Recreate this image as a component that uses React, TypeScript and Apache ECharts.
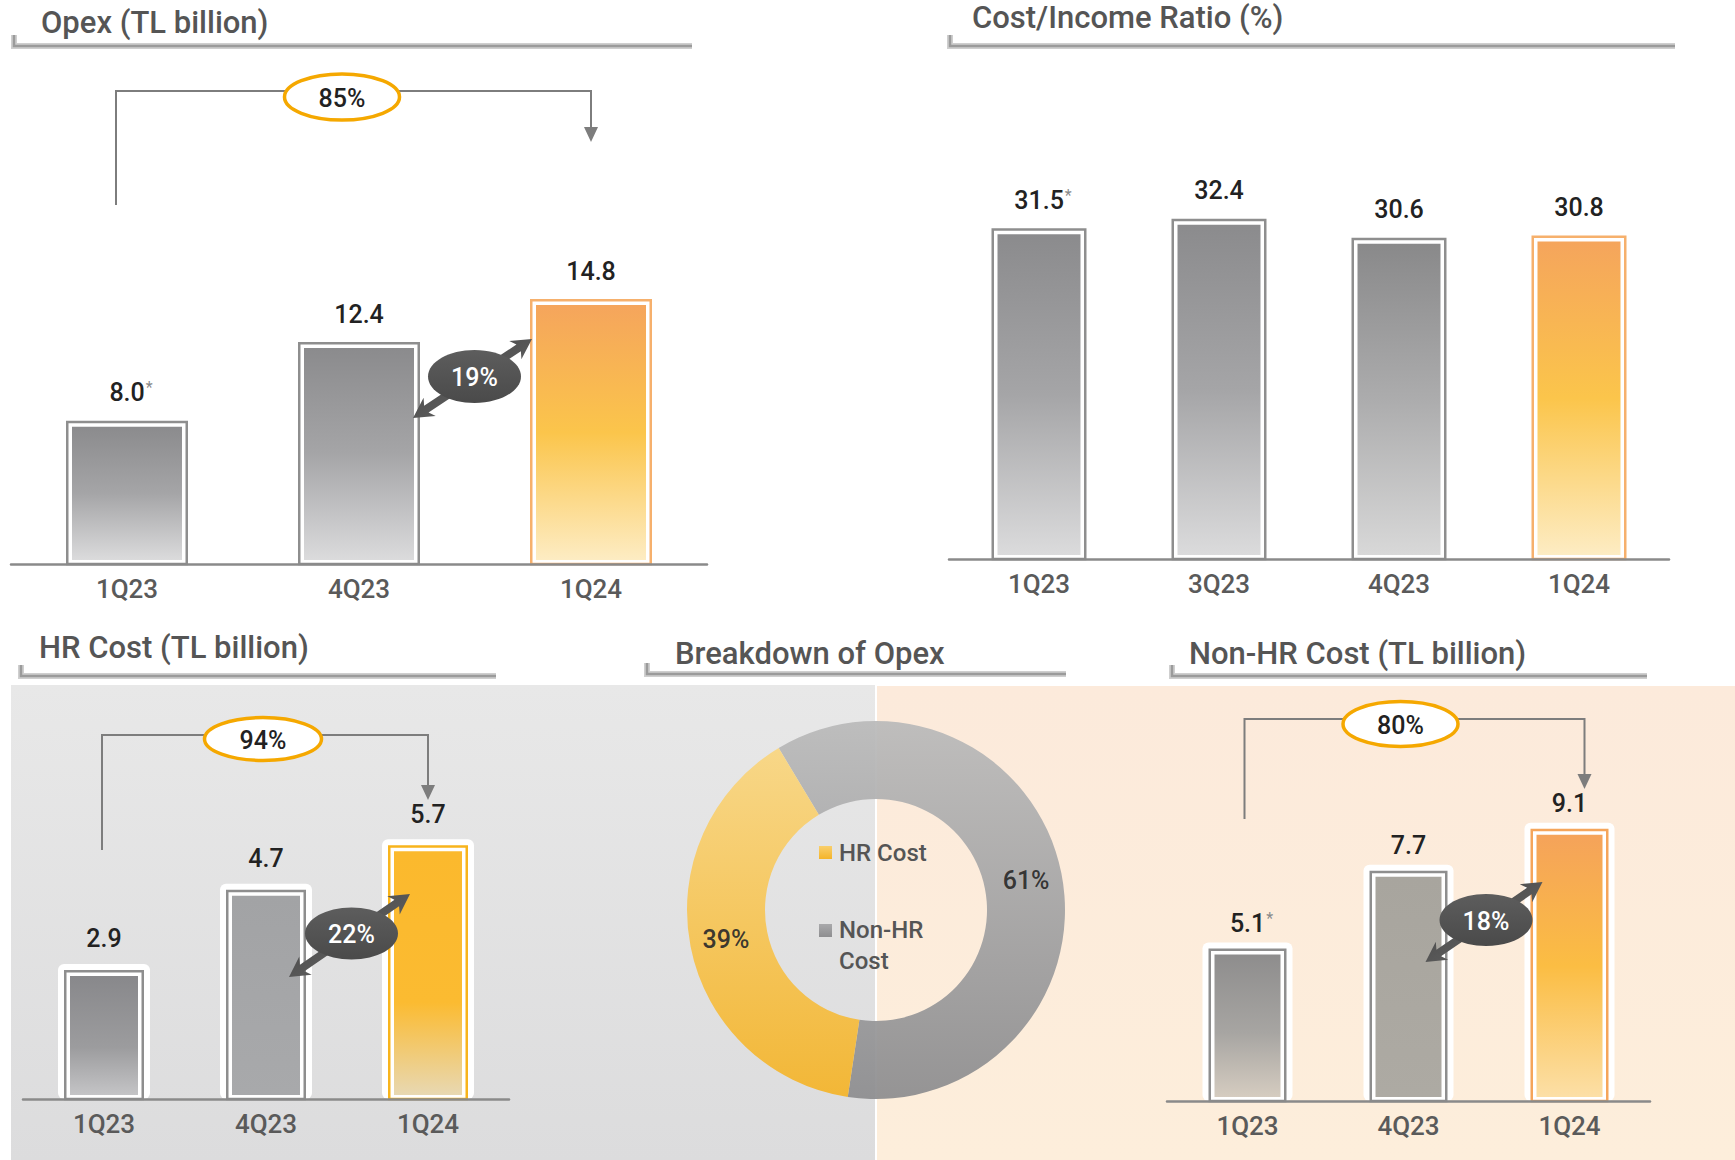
import React, { useEffect, useRef } from 'react';
import * as echarts from 'echarts';

const FONT = "Roboto, 'Open Sans', sans-serif";

// Opex (TL billion)
const opexQuarters = ['1Q23', '4Q23', '1Q24'];
const opexValues = [8.0, 12.4, 14.8];
const opexStarred = [true, false, false];
const opexYoY = '85%';
const opexQoQ = '19%';

// Cost/Income ratio (%)
const ratioQuarters = ['1Q23', '3Q23', '4Q23', '1Q24'];
const ratioValues = [31.5, 32.4, 30.6, 30.8];
const ratioStarred = [true, false, false, false];

// HR cost (TL billion)
const hrQuarters = ['1Q23', '4Q23', '1Q24'];
const hrValues = [2.9, 4.7, 5.7];
const hrStarred = [false, false, false];
const hrYoY = '94%';
const hrQoQ = '22%';

// Non-HR cost (TL billion)
const nonHrQuarters = ['1Q23', '4Q23', '1Q24'];
const nonHrValues = [5.1, 7.7, 9.1];
const nonHrStarred = [true, false, false];
const nonHrYoY = '80%';
const nonHrQoQ = '18%';

// Breakdown of opex (%)
const breakdownNames = ['Non-HR Cost', 'HR Cost'];
const breakdownShares = [61, 39];

const grad = (stops: Array<[number, string]>) =>
  new echarts.graphic.LinearGradient(
    0, 0, 0, 1,
    stops.map(([offset, color]) => ({ offset, color }))
  );

const FRAME_GREY = '#8e8e8e';
const greyUpper = () => grad([[0, '#8b8b8d'], [0.5, '#a5a5a7'], [1, '#dbdbdc']]);
const amberUpper = () => grad([[0, '#f5a55c'], [0.5, '#fbc54b'], [1, '#fdecc3']]);

type BarStyle = { fill: any; frame: string };

const opexStyles: BarStyle[] = [
  { fill: greyUpper(), frame: FRAME_GREY },
  { fill: greyUpper(), frame: FRAME_GREY },
  { fill: amberUpper(), frame: '#f6b06c' },
];
const ratioStyles: BarStyle[] = [
  { fill: greyUpper(), frame: FRAME_GREY },
  { fill: greyUpper(), frame: FRAME_GREY },
  { fill: grad([[0, '#89898a'], [0.5, '#acacad'], [1, '#d8d8d8']]), frame: FRAME_GREY },
  { fill: amberUpper(), frame: '#f6b06c' },
];
const hrStyles: BarStyle[] = [
  { fill: grad([[0, '#88888b'], [0.6, '#9c9c9e'], [1, '#c4c4c6']]), frame: FRAME_GREY },
  { fill: grad([[0, '#a2a3a5'], [1, '#a8a9ab']]), frame: FRAME_GREY },
  { fill: grad([[0, '#fbb92d'], [0.62, '#fbbb31'], [1, '#e8d8b2']]), frame: '#f8b41c' },
];
const nonHrStyles: BarStyle[] = [
  { fill: grad([[0, '#8e8d8d'], [0.55, '#a7a5a2'], [1, '#d5ccc0']]), frame: FRAME_GREY },
  { fill: grad([[0, '#a8a59e'], [1, '#adaaa3']]), frame: FRAME_GREY },
  { fill: grad([[0, '#f5a35a'], [0.5, '#fbbd43'], [1, '#fcdfa6']]), frame: '#f5a55a' },
];

const labelRich = {
  v: { fontSize: 25, fontWeight: 500, fontFamily: FONT, fill: '#222222', color: '#222222' },
  s: { fontSize: 16, fontFamily: FONT, fill: '#8a8a8a', color: '#8a8a8a', verticalAlign: 'top', padding: [0, 0, 10, 1] },
};

// Framed bar: optional white halo, thin frame, white gap and gradient fill, value on top
function framedBars(
  gridIndex: number,
  values: number[],
  starred: boolean[],
  styles: BarStyle[],
  barWidth: number,
  halo: boolean,
  labelGap: number
) {
  return {
    type: 'custom',
    xAxisIndex: gridIndex,
    yAxisIndex: gridIndex,
    z: 2,
    silent: true,
    data: values.map((v, i) => [i, v]),
    renderItem: (_params: any, api: any) => {
      const i = api.value(0);
      const v = api.value(1);
      const top = api.coord([i, v]);
      const base = api.coord([i, 0]);
      const st = styles[i];
      const x = top[0] - barWidth / 2;
      const y = top[1];
      const h = base[1] - top[1];
      const children: any[] = [];
      if (halo) {
        children.push({
          type: 'rect',
          shape: { x: x - 6, y: y - 6, width: barWidth + 12, height: h + 6, r: 6 },
          style: { fill: '#ffffff' },
        });
      }
      children.push({
        type: 'rect',
        shape: { x: x + 1.25, y: y + 1.25, width: barWidth - 2.5, height: h - 1.25 },
        style: { fill: '#ffffff', stroke: st.frame, lineWidth: 2.5 },
      });
      children.push({
        type: 'rect',
        shape: { x: x + 6, y: y + 6, width: barWidth - 12, height: h - 10 },
        style: { fill: st.fill },
      });
      const txt = starred[i] ? `{v|${v.toFixed(1)}}{s|*}` : `{v|${v.toFixed(1)}}`;
      children.push({
        type: 'text',
        x: top[0] + (starred[i] ? 4 : 0),
        y: y - labelGap,
        style: {
          text: txt,
          rich: labelRich,
          align: 'center',
          verticalAlign: 'middle',
          textAlign: 'center',
          textVerticalAlign: 'middle',
        },
      });
      return { type: 'group', children };
    },
  };
}

const axisLabel = {
  fontSize: 26,
  fontWeight: 500,
  color: '#5a5a5a',
  fontFamily: FONT,
  margin: 12,
};

function xAxis(gridIndex: number, data: string[]) {
  return {
    type: 'category',
    gridIndex,
    data,
    z: 5,
    axisTick: { show: false },
    axisLine: { lineStyle: { color: '#8a8a8a', width: 2.5 } },
    axisLabel,
  };
}
function yAxis(gridIndex: number, max: number) {
  return { type: 'value', gridIndex, min: 0, max, show: false, splitLine: { show: false } };
}

const titleStyle = { fontSize: 31, fontWeight: 500, color: '#555555', fontFamily: FONT, lineHeight: 36 };

// Header rule: light outer line with a darker core, short upward tick at the left end
function headerRule(x0: number, x1: number, y: number) {
  const pts = [[x0, y - 11], [x0, y], [x1, y]];
  return [
    { type: 'polyline', z: 1, silent: true, shape: { points: pts }, style: { stroke: '#cfcfcf', lineWidth: 6, fill: null } },
    { type: 'polyline', z: 1, silent: true, shape: { points: pts }, style: { stroke: '#9b9b9b', lineWidth: 2.5, fill: null } },
  ];
}

function growthBracket(xl: number, xr: number, yTop: number, yLeftEnd: number, yTip: number,
  ex: number, ey: number, ew: number, eh: number, label: string) {
  const c = '#7d7d7d';
  return [
    { type: 'polyline', z: 10, silent: true, shape: { points: [[xl, yLeftEnd], [xl, yTop], [xr, yTop], [xr, yTip - 12]] }, style: { stroke: c, lineWidth: 2, fill: null } },
    { type: 'polygon', z: 10, silent: true, shape: { points: [[xr - 7, yTip - 15], [xr + 7, yTip - 15], [xr, yTip]] }, style: { fill: c } },
    { type: 'ellipse', z: 11, silent: true, shape: { cx: ex, cy: ey, rx: ew / 2, ry: eh / 2 }, style: { fill: '#ffffff', stroke: '#f5a800', lineWidth: 3.5 } },
    { type: 'text', z: 12, silent: true, x: ex, y: ey + 1, style: { text: label, fill: '#222222', fontSize: 25, fontWeight: 500, fontFamily: FONT, align: 'center', verticalAlign: 'middle', textAlign: 'center', textVerticalAlign: 'middle' } },
  ];
}

function changeArrow(p1: number[], p2: number[], ew: number, eh: number, label: string) {
  const dx = p2[0] - p1[0];
  const dy = p2[1] - p1[1];
  const len = Math.hypot(dx, dy);
  const u = [dx / len, dy / len];
  const n = [-u[1], u[0]];
  const L = 20, hw = 11, s = 4;
  const at = (p: number[], a: number, b: number) => [p[0] + u[0] * a + n[0] * b, p[1] + u[1] * a + n[1] * b];
  const pts = [
    p1, at(p1, L, hw), at(p1, L - 4, s), at(p2, -L + 4, s), at(p2, -L, hw), p2,
    at(p2, -L, -hw), at(p2, -L + 4, -s), at(p1, L - 4, -s), at(p1, L, -hw),
  ];
  const cx = (p1[0] + p2[0]) / 2 + 2;
  const cy = (p1[1] + p2[1]) / 2 - 2;
  return [
    { type: 'polygon', z: 10, silent: true, shape: { points: pts }, style: { fill: new echarts.graphic.LinearGradient(0, 0, 1, 1, [{ offset: 0, color: '#3e3e3e' }, { offset: 1, color: '#6e6e6e' }]) } },
    { type: 'ellipse', z: 11, silent: true, shape: { cx, cy, rx: ew / 2, ry: eh / 2 }, style: { fill: new echarts.graphic.LinearGradient(0, 0, 0, 1, [{ offset: 0, color: '#5d5d5d' }, { offset: 1, color: '#4a4a4a' }]) } },
    { type: 'text', z: 12, silent: true, x: cx, y: cy + 1, style: { text: label, fill: '#ffffff', fontSize: 25, fontWeight: 500, fontFamily: FONT, align: 'center', verticalAlign: 'middle', textAlign: 'center', textVerticalAlign: 'middle' } },
  ];
}

export default function App() {
  const ref = useRef<HTMLDivElement>(null);

  useEffect(() => {
    if (!ref.current) return;
    const chart = echarts.init(ref.current, undefined, { renderer: 'svg' });

    const hrFill = grad([[0, '#f9d681'], [1, '#f4b42a']]);
    const nonHrFill = grad([[0, '#bababa'], [1, '#8d8d8f']]);

    chart.setOption({
      animation: false,
      textStyle: { fontFamily: FONT },
      title: [
        { text: 'Opex (TL billion)', left: 41, top: 4, padding: 0, textStyle: titleStyle },
        { text: 'Cost/Income Ratio (%)', left: 972, top: -1, padding: 0, textStyle: titleStyle },
        { text: 'HR Cost (TL billion)', left: 39, top: 629, padding: 0, textStyle: titleStyle },
        { text: 'Breakdown of Opex', left: 675, top: 635, padding: 0, textStyle: titleStyle },
        { text: 'Non-HR Cost (TL billion)', left: 1189, top: 635, padding: 0, textStyle: titleStyle },
      ],
      grid: [
        { left: 11, top: 206, width: 696, height: 358 },
        { left: 949, top: 139, width: 720, height: 420 },
        { left: 23, top: 743, width: 486, height: 356 },
        { left: 1167, top: 742, width: 483, height: 359 },
      ],
      xAxis: [
        xAxis(0, opexQuarters),
        xAxis(1, ratioQuarters),
        xAxis(2, hrQuarters),
        xAxis(3, nonHrQuarters),
      ],
      yAxis: [yAxis(0, 20), yAxis(1, 40), yAxis(2, 8), yAxis(3, 12)],
      series: [
        framedBars(0, opexValues, opexStarred, opexStyles, 122, false, 28),
        framedBars(1, ratioValues, ratioStarred, ratioStyles, 95, false, 28),
        framedBars(2, hrValues, hrStarred, hrStyles, 80, true, 31),
        framedBars(3, nonHrValues, nonHrStarred, nonHrStyles, 78, true, 25),
        {
          type: 'pie',
          z: 3,
          silent: true,
          center: [876, 910],
          radius: [111, 189],
          startAngle: 121,
          clockwise: true,
          label: {
            position: 'inside',
            formatter: '{c}%',
            fontSize: 25,
            fontWeight: 500,
            color: '#2a2a2a',
            fontFamily: FONT,
          },
          labelLine: { show: false },
          emphasis: { disabled: true },
          itemStyle: { opacity: 0.93 },
          data: breakdownNames.map((name, i) => ({
            name,
            value: breakdownShares[i],
            itemStyle: { color: name === 'HR Cost' ? hrFill : nonHrFill },
          })),
        },
      ],
    });

    const px = (g: number, i: number, v = 0) =>
      chart.convertToPixel({ gridIndex: g } as any, [i, v]) as number[];

    const o0 = px(0, 0)[0], o1 = px(0, 1)[0], o2 = px(0, 2)[0];
    const h0 = px(2, 0)[0], h1 = px(2, 1)[0], h2 = px(2, 2)[0];
    const n0 = px(3, 0)[0], n1 = px(3, 1)[0], n2 = px(3, 2)[0];

    const legendText = { fill: '#555555', fontSize: 24, fontWeight: 500, fontFamily: FONT, verticalAlign: 'middle', textVerticalAlign: 'middle' };

    chart.setOption({
      graphic: [
        // panel backgrounds
        { type: 'rect', z: -5, silent: true, shape: { x: 11, y: 685, width: 864, height: 475 }, style: { fill: grad([[0, '#e8e8e8'], [1, '#dcdcdd']]) } },
        { type: 'rect', z: -5, silent: true, shape: { x: 877, y: 686, width: 858, height: 474 }, style: { fill: grad([[0, '#fceadb'], [1, '#fdeedb']]) } },
        ...headerRule(14, 692, 46),
        ...headerRule(950, 1675, 46),
        ...headerRule(21, 496, 676),
        ...headerRule(647, 1066, 674),
        ...headerRule(1172, 1647, 676),
        ...growthBracket(o0 - 11, o2, 91, 205, 142, (o0 + o2) / 2 - 17, 97, 115, 46, opexYoY),
        ...changeArrow([o1 + 54, 418], [o2 - 59, 339], 93, 53, opexQoQ),
        ...growthBracket(h0 - 2, h2, 735, 850, 800, (h0 + h2) / 2 - 3, 739, 117, 43, hrYoY),
        ...changeArrow([h1 + 23, 977], [h2 - 18, 894], 93, 52, hrQoQ),
        ...growthBracket(n0 - 3, n2 + 15, 719, 819, 789, (n0 + n2) / 2 - 8, 724, 115, 45, nonHrYoY),
        ...changeArrow([n1 + 17, 962], [n2 - 27, 882], 93, 52, nonHrQoQ),
        // legend in the donut hole
        { type: 'rect', z: 12, silent: true, shape: { x: 819, y: 846, width: 13, height: 13 }, style: { fill: grad([[0, '#f9cf6c'], [1, '#f4b42a']]) } },
        { type: 'text', z: 12, silent: true, x: 839, y: 853, style: { text: 'HR Cost', ...legendText } },
        { type: 'rect', z: 12, silent: true, shape: { x: 819, y: 924, width: 13, height: 13 }, style: { fill: grad([[0, '#a9a9ab'], [1, '#8e8e90']]) } },
        { type: 'text', z: 12, silent: true, x: 839, y: 930, style: { text: 'Non-HR', ...legendText } },
        { type: 'text', z: 12, silent: true, x: 839, y: 961, style: { text: 'Cost', ...legendText } },
      ],
    });

    return () => chart.dispose();
  }, []);

  return (
    <div
      ref={ref}
      style={{ position: 'fixed', left: 0, top: 0, width: 1735, height: 1160, background: '#ffffff' }}
    />
  );
}
